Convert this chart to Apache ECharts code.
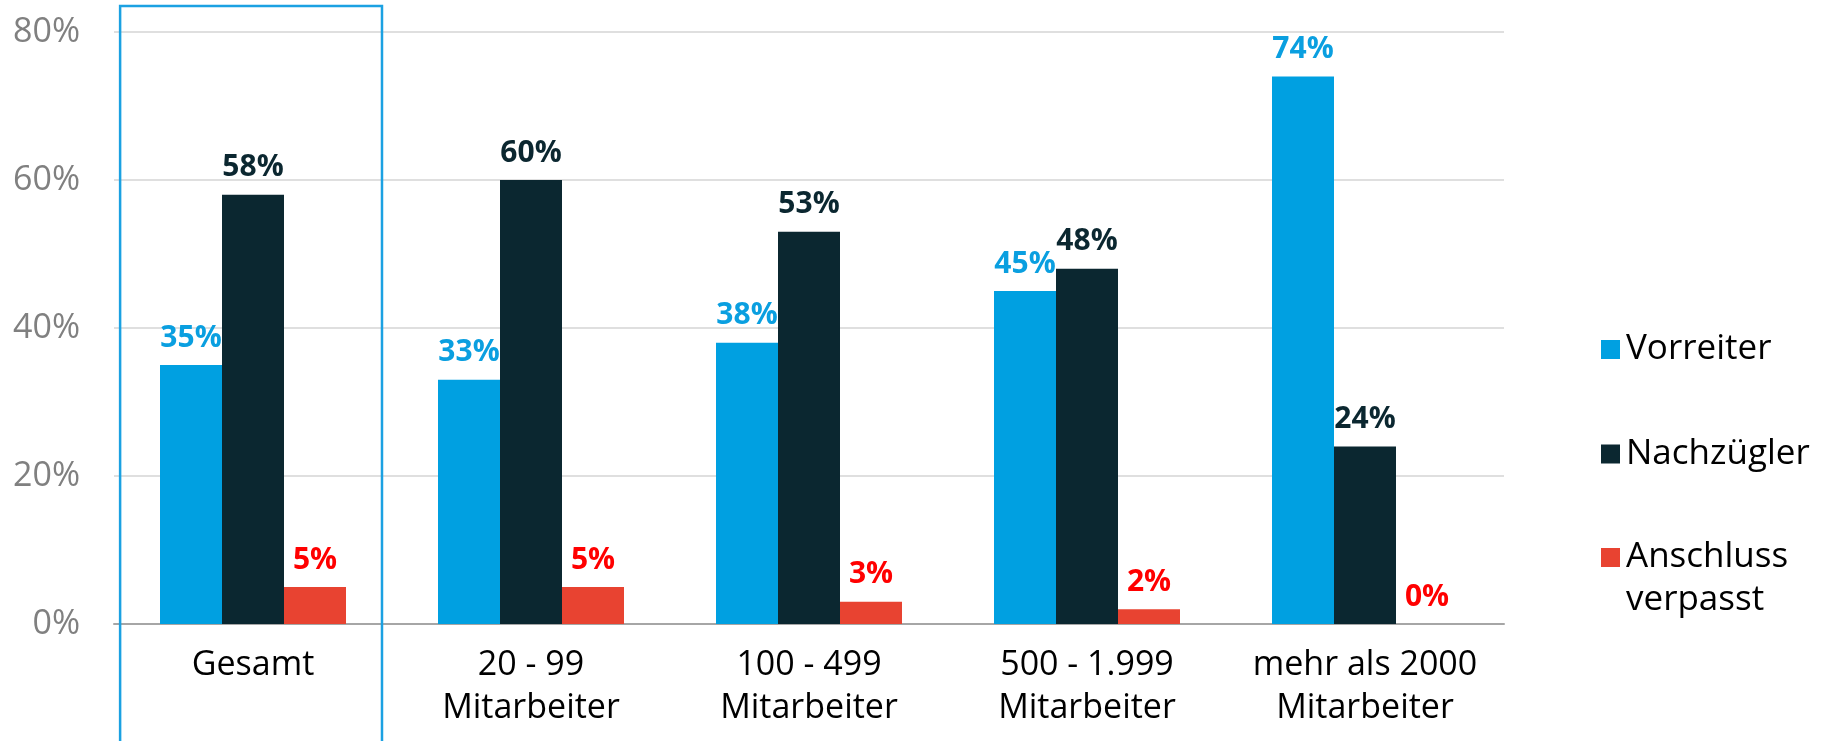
<!DOCTYPE html>
<html>
<head>
<meta charset="utf-8">
<script src="https://cdn.jsdelivr.net/npm/echarts@6/dist/echarts.min.js"></script>
<style>
html,body{margin:0;padding:0;background:#fff;}
#main{width:1832px;height:741px;}
</style>
</head>
<body>
<div id="main"></div>
<script>
const categories = ['Gesamt', '20 - 99\nMitarbeiter', '100 - 499\nMitarbeiter', '500 - 1.999\nMitarbeiter', 'mehr als 2000\nMitarbeiter'];
const seriesNames = ['Vorreiter', 'Nachzügler', 'Anschluss verpasst'];
const vorreiter = [35, 33, 38, 45, 74];
const nachzuegler = [58, 60, 53, 48, 24];
const anschlussVerpasst = [5, 5, 3, 2, 0];
const yMin = 0, yMax = 80, yStep = 20;

const FONT = 'Open Sans';
const barColors = ['#00A0E1', '#0B2730', '#E84331'];
const labelColors = ['#0A9FE0', '#0B2730', '#FF0000'];

function barSeries(name, data, i) {
  return {
    name: name,
    type: 'bar',
    data: data,
    barWidth: 62,
    barGap: '0%',
    itemStyle: { color: barColors[i] },
    label: {
      show: true,
      position: 'top',
      distance: 12,
      formatter: '{c}%',
      color: labelColors[i],
      fontFamily: FONT,
      fontWeight: 'bold',
      fontSize: 30
    }
  };
}

function legendFor(name, top, extra) {
  return Object.assign({
    data: [name],
    orient: 'vertical',
    left: 1601,
    top: top,
    padding: 0,
    itemWidth: 19,
    itemHeight: 19,
    icon: 'rect',
    selectedMode: false,
    textStyle: {
      fontFamily: FONT,
      fontSize: 35,
      lineHeight: 43,
      color: '#000',
      padding: [0, 0, 0, 1]
    }
  }, extra || {});
}

const chart = echarts.init(document.getElementById('main'));
chart.setOption({
  animation: false,
  color: barColors,
  grid: { left: 114, right: 328, top: 32, bottom: 117, containLabel: false },
  legend: [
    legendFor(seriesNames[0], 328),
    legendFor(seriesNames[1], 432.5),
    legendFor(seriesNames[2], 493, {
      // leading empty line keeps the square level with the first text line
      formatter: function () { return '\nAnschluss\nverpasst'; }
    })
  ],
  xAxis: {
    type: 'category',
    data: categories,
    axisLine: { show: true, lineStyle: { color: '#A6A6A6', width: 2 } },
    axisTick: { show: false },
    axisLabel: {
      margin: 20,
      color: '#000',
      fontFamily: FONT,
      fontSize: 34,
      lineHeight: 43,
      verticalAlign: 'top',
      interval: 0
    }
  },
  yAxis: {
    type: 'value',
    min: yMin,
    max: yMax,
    interval: yStep,
    axisLine: { show: false },
    axisTick: { show: false },
    splitLine: { lineStyle: { color: '#D4D4D4', width: 1.5 } },
    axisLabel: {
      formatter: '{value}%',
      margin: 34,
      color: '#808080',
      fontFamily: FONT,
      fontSize: 34
    }
  },
  series: [
    barSeries(seriesNames[0], vorreiter, 0),
    barSeries(seriesNames[1], nachzuegler, 1),
    barSeries(seriesNames[2], anschlussVerpasst, 2)
  ]
});

// highlight frame around the first category, derived from the axes
const c0 = chart.convertToPixel({ xAxisIndex: 0 }, 0);
const c1 = chart.convertToPixel({ xAxisIndex: 0 }, 1);
const bw = c1 - c0;
const yTop = chart.convertToPixel({ yAxisIndex: 0 }, yMax);
chart.setOption({
  graphic: [{
    type: 'rect',
    z: 100,
    shape: { x: c0 - bw * 0.478, y: yTop - 26, width: bw * 0.942, height: 800 },
    style: { fill: 'none', stroke: '#1BA1E2', lineWidth: 2.5 },
    silent: true
  }]
});
</script>
</body>
</html>
